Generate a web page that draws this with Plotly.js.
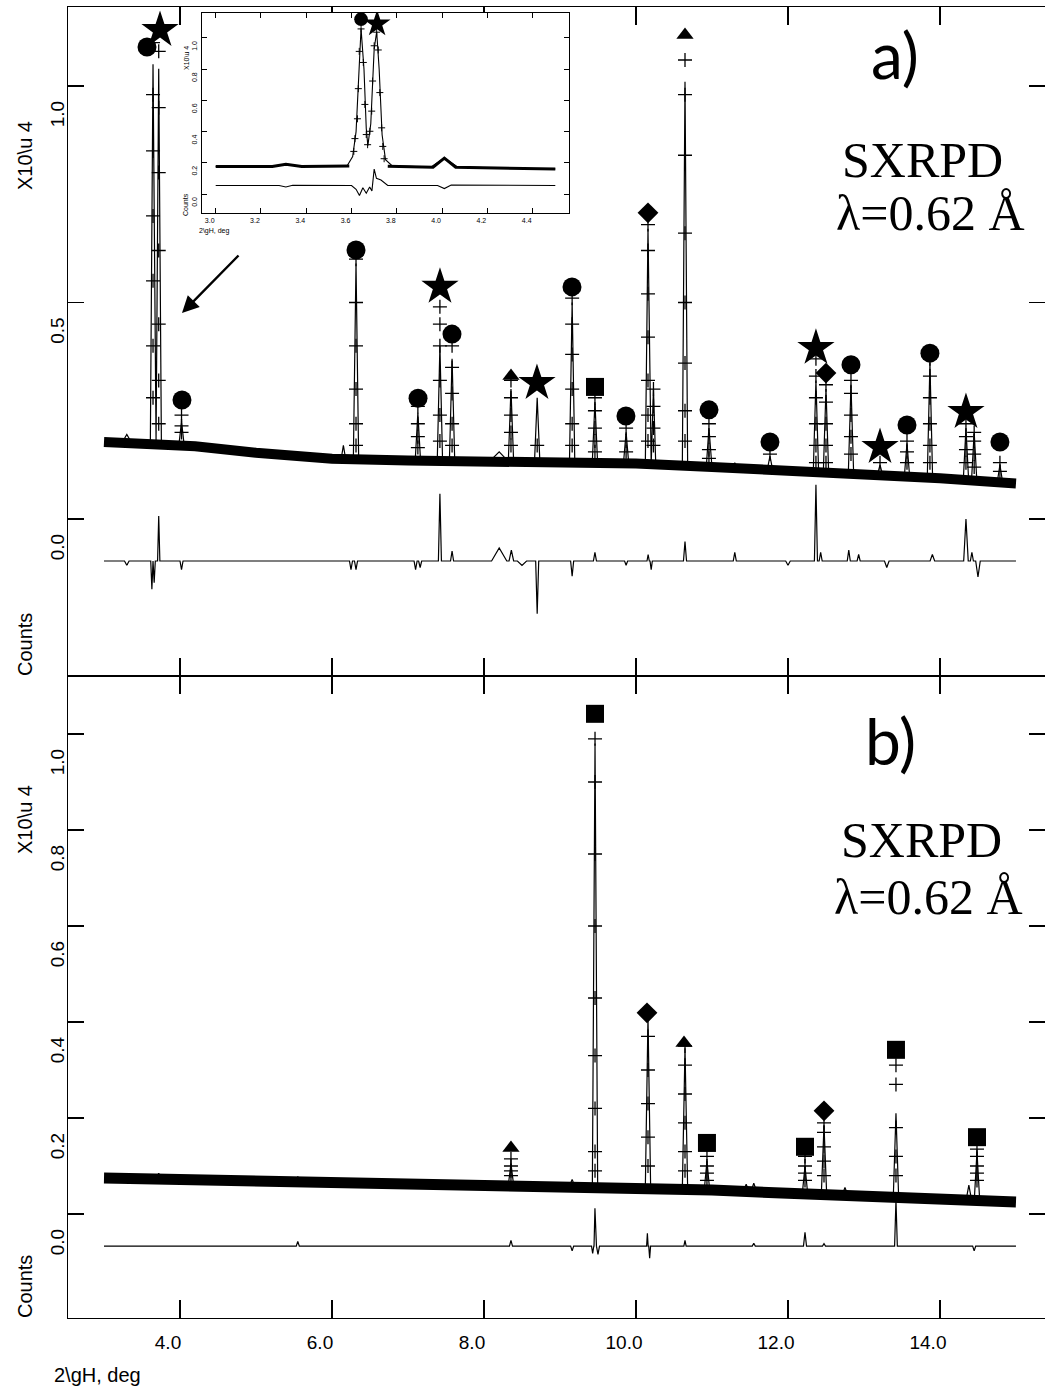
<!DOCTYPE html>
<html>
<head>
<meta charset="utf-8">
<script src="https://cdn.plot.ly/plotly-3.0.1.min.js"></script>
<style>html,body{margin:0;padding:0;background:#fff;}#chart{width:1045px;height:1390px;}</style>
</head>
<body>
<div id="chart"></div>
<script>
// ---------------- DATA ----------------
const xTickVals = [4, 6, 8, 10, 12, 14];
const yTicksA = [0.0, 0.5, 1.0];
const yTicksB = [0.0, 0.2, 0.4, 0.6, 0.8, 1.0];
const insetXTicks = [3.0, 3.2, 3.4, 3.6, 3.8, 4.0, 4.2, 4.4];
const insetYTicks = [0.0, 0.2, 0.4, 0.6, 0.8, 1.0];

// Panel a) background (observed band)
const bgA_x = [3.0, 3.5, 4.2, 5.0, 5.5, 6.0, 7.0, 8.0, 9.0, 10.0, 11.0, 12.0, 13.0, 14.0, 15.0];
const bgA_y = [0.178, 0.176, 0.168, 0.153, 0.145, 0.139, 0.135, 0.134, 0.132, 0.128, 0.120, 0.112, 0.103, 0.094, 0.082];
// Panel a) peaks
const peakA_x    = [3.30, 3.645, 3.72, 4.02, 4.95, 6.15, 6.316, 7.13, 7.42, 7.58, 8.20, 8.355, 8.70, 9.16, 9.46, 9.87, 10.158, 10.23, 10.645, 10.96, 11.30, 11.763, 12.368, 12.50, 12.829, 13.211, 13.566, 13.868, 14.342, 14.45, 14.789];
const peakA_calc = [0.195, 1.05, 1.04, 0.225, 0.162, 0.17, 0.59, 0.245, 0.40, 0.37, 0.155, 0.30, 0.28, 0.50, 0.27, 0.20, 0.67, 0.30, 1.01, 0.21, 0.13, 0.145, 0.32, 0.30, 0.31, 0.125, 0.175, 0.36, 0.21, 0.20, 0.125];
const peakA_obs  = [null, 1.10, 1.08, 0.24, null, null, 0.60, 0.26, 0.49, 0.40, null, 0.32, 0.17, 0.51, 0.28, 0.21, 0.68, 0.30, 1.06, 0.22, null, 0.15, 0.37, 0.31, 0.32, 0.13, 0.18, 0.37, 0.22, 0.20, 0.13];
const peakA_base = [0.177, 0.18, 0.18, 0.17, 0.153, 0.138, 0.138, 0.135, 0.134, 0.134, 0.134, 0.133, 0.133, 0.131, 0.130, 0.128, 0.127, 0.127, 0.123, 0.120, 0.118, 0.114, 0.109, 0.108, 0.105, 0.101, 0.098, 0.095, 0.090, 0.089, 0.085];
const peakA_hw   = [0.06, 0.035, 0.035, 0.035, 0.06, 0.03, 0.035, 0.035, 0.035, 0.035, 0.12, 0.035, 0.035, 0.035, 0.035, 0.035, 0.035, 0.03, 0.035, 0.035, 0.03, 0.035, 0.035, 0.035, 0.035, 0.035, 0.035, 0.035, 0.035, 0.035, 0.035];
// Panel a) observed crosses along the peak flanks
const flankA_x = [3.645, 3.645, 3.645, 3.645, 3.645, 3.645, 3.72, 3.72, 3.72, 3.72, 3.72, 3.72, 4.02, 4.02,
  6.316, 6.316, 6.316, 6.316, 6.316, 7.13, 7.13, 7.13, 7.42, 7.42, 7.42, 7.42, 7.42, 7.58, 7.58, 7.58, 7.58,
  8.355, 8.355, 8.355, 8.355, 9.16, 9.16, 9.16, 9.16, 9.16, 9.46, 9.46, 9.46, 9.46, 9.87, 9.87,
  10.158, 10.158, 10.158, 10.158, 10.158, 10.158, 10.23, 10.23, 10.23,
  10.645, 10.645, 10.645, 10.645, 10.645, 10.645, 10.645, 10.96, 10.96, 10.96,
  12.368, 12.368, 12.368, 12.368, 12.368, 12.50, 12.50, 12.50, 12.50, 12.829, 12.829, 12.829, 12.829,
  13.566, 13.566, 13.868, 13.868, 13.868, 13.868, 13.868, 14.342, 14.342, 14.342, 14.45, 14.45, 14.45, 14.789];
const flankA_y = [0.98, 0.85, 0.70, 0.55, 0.40, 0.28, 0.95, 0.80, 0.62, 0.45, 0.32, 0.22, 0.20, 0.215,
  0.50, 0.40, 0.30, 0.22, 0.17, 0.22, 0.19, 0.165, 0.45, 0.40, 0.32, 0.24, 0.18, 0.35, 0.29, 0.22, 0.17,
  0.28, 0.24, 0.20, 0.17, 0.45, 0.38, 0.30, 0.22, 0.17, 0.25, 0.21, 0.18, 0.155, 0.18, 0.155,
  0.62, 0.52, 0.42, 0.32, 0.24, 0.18, 0.26, 0.21, 0.17,
  0.98, 0.84, 0.66, 0.50, 0.36, 0.25, 0.18, 0.19, 0.16, 0.14,
  0.33, 0.28, 0.22, 0.17, 0.13, 0.27, 0.22, 0.17, 0.13, 0.29, 0.24, 0.19, 0.15,
  0.155, 0.13, 0.33, 0.28, 0.22, 0.17, 0.13, 0.19, 0.16, 0.13, 0.18, 0.15, 0.12, 0.11];
// Panel a) difference curve
const diffA_base = -0.097;
const diffA_x  = [3.30, 3.63, 3.66, 3.72, 4.02, 6.25, 6.316, 7.10, 7.16, 7.42, 7.58, 8.20, 8.36, 8.50, 8.70, 9.16, 9.46, 9.87, 10.16, 10.20, 10.645, 11.30, 12.00, 12.368, 12.43, 12.80, 12.93, 13.30, 13.90, 14.342, 14.42, 14.50];
const diffA_dy = [-0.01, -0.065, -0.05, 0.104, -0.02, -0.02, -0.02, -0.02, -0.015, 0.155, 0.023, 0.03, 0.025, -0.01, -0.122, -0.035, 0.02, -0.01, 0.015, -0.02, 0.045, 0.02, -0.01, 0.176, 0.02, 0.025, 0.015, -0.015, 0.015, 0.097, 0.02, -0.037];
const diffA_hw = [0.03, 0.015, 0.015, 0.015, 0.02, 0.02, 0.02, 0.02, 0.02, 0.02, 0.02, 0.10, 0.03, 0.06, 0.02, 0.02, 0.02, 0.02, 0.015, 0.015, 0.02, 0.02, 0.03, 0.02, 0.02, 0.02, 0.02, 0.03, 0.03, 0.03, 0.02, 0.03];
// Panel a) phase markers
const markA_x = [3.566, 3.737, 4.026, 6.316, 7.132, 7.421, 7.579, 8.355, 8.697, 9.158, 9.461, 9.868, 10.158, 10.645, 10.961, 11.763, 12.368, 12.500, 12.829, 13.211, 13.566, 13.868, 14.342, 14.789];
const markA_y = [1.090, 1.129, 0.275, 0.621, 0.279, 0.536, 0.427, 0.330, 0.314, 0.536, 0.305, 0.238, 0.707, 1.118, 0.252, 0.178, 0.395, 0.337, 0.356, 0.166, 0.217, 0.383, 0.247, 0.178];
const markA_phase = ['circle', 'star', 'circle', 'circle', 'circle', 'star', 'circle', 'triangle', 'star', 'circle', 'square', 'circle', 'diamond', 'triangle', 'circle', 'circle', 'star', 'diamond', 'circle', 'star', 'circle', 'circle', 'star', 'circle'];

// Panel b) background
const bgB_x = [3.0, 4.0, 5.0, 6.0, 7.0, 8.0, 9.0, 10.0, 11.0, 12.0, 13.0, 14.0, 15.0];
const bgB_y = [0.075, 0.072, 0.068, 0.064, 0.061, 0.060, 0.058, 0.054, 0.050, 0.043, 0.037, 0.031, 0.025];
// Panel b) peaks
const peakB_x    = [3.72, 5.55, 8.355, 9.16, 9.461, 10.158, 10.645, 10.934, 11.45, 11.55, 12.224, 12.474, 12.75, 13.421, 14.38, 14.487];
const peakB_calc = [0.085, 0.078, 0.105, 0.072, 0.98, 0.41, 0.345, 0.11, 0.062, 0.064, 0.10, 0.185, 0.055, 0.21, 0.06, 0.13];
const peakB_obs  = [null, null, 0.115, null, 0.99, 0.42, 0.35, 0.12, null, null, 0.12, 0.19, null, 0.31, null, 0.135];
const peakB_base = [0.075, 0.067, 0.060, 0.058, 0.057, 0.054, 0.052, 0.051, 0.048, 0.048, 0.043, 0.042, 0.040, 0.036, 0.030, 0.030];
const peakB_hw   = [0.035, 0.035, 0.035, 0.035, 0.035, 0.035, 0.035, 0.035, 0.035, 0.035, 0.035, 0.035, 0.035, 0.035, 0.035, 0.035];
// Panel b) observed crosses along the peak flanks
const flankB_x = [8.355, 8.355, 8.355, 9.461, 9.461, 9.461, 9.461, 9.461, 9.461, 9.461, 9.461,
  10.158, 10.158, 10.158, 10.158, 10.158, 10.645, 10.645, 10.645, 10.645, 10.645, 10.934, 10.934, 10.934,
  12.224, 12.224, 12.224, 12.474, 12.474, 12.474, 12.474, 13.421, 13.421, 13.421, 13.421, 14.487, 14.487, 14.487, 14.487];
const flankB_y = [0.10, 0.09, 0.08, 0.90, 0.75, 0.60, 0.45, 0.33, 0.22, 0.13, 0.09,
  0.37, 0.30, 0.23, 0.16, 0.10, 0.31, 0.25, 0.19, 0.13, 0.09, 0.10, 0.085, 0.07,
  0.10, 0.085, 0.07, 0.17, 0.14, 0.11, 0.08, 0.27, 0.18, 0.12, 0.08, 0.12, 0.10, 0.085, 0.07];
// Panel b) difference curve
const diffB_base = -0.067;
const diffB_x  = [5.55, 8.355, 9.16, 9.43, 9.46, 9.50, 10.15, 10.18, 10.645, 11.55, 12.224, 12.474, 13.421, 14.45];
const diffB_dy = [0.01, 0.012, -0.01, -0.015, 0.079, -0.017, 0.027, -0.025, 0.012, 0.006, 0.029, 0.005, 0.096, -0.01];
const diffB_hw = [0.02, 0.02, 0.02, 0.015, 0.012, 0.02, 0.01, 0.012, 0.015, 0.02, 0.02, 0.02, 0.018, 0.02];
// Panel b) phase markers
const markB_x = [8.355, 9.461, 10.145, 10.632, 10.934, 12.224, 12.474, 13.421, 14.487];
const markB_y = [0.1375, 1.042, 0.419, 0.356, 0.148, 0.140, 0.215, 0.342, 0.160];
const markB_phase = ['triangle', 'square', 'diamond', 'triangle', 'square', 'square', 'diamond', 'square', 'square'];

// Inset (zoom of 3.0-4.5 deg)
const insetCalc_x = [3.0, 3.25, 3.31, 3.38, 3.58, 3.605, 3.62, 3.635, 3.642, 3.655, 3.665, 3.672, 3.685, 3.70, 3.711, 3.722, 3.735, 3.75, 3.78, 3.95, 4.01, 4.07, 4.5];
const insetCalc_y = [0.176, 0.176, 0.192, 0.176, 0.18, 0.24, 0.40, 0.85, 1.06, 0.80, 0.42, 0.31, 0.45, 0.93, 1.04, 0.80, 0.38, 0.22, 0.18, 0.172, 0.232, 0.172, 0.16];
const insetObs_x = [3.610, 3.615, 3.626, 3.630, 3.634, 3.642, 3.652, 3.659, 3.665, 3.671, 3.681, 3.689, 3.693, 3.700, 3.711, 3.718, 3.725, 3.733, 3.738, 3.744];
const insetObs_y = [0.273, 0.355, 0.482, 0.675, 0.914, 1.058, 0.843, 0.574, 0.381, 0.316, 0.402, 0.531, 0.724, 0.950, 1.037, 0.923, 0.650, 0.424, 0.305, 0.226];
const insetBand_x = [3.0, 3.25, 3.31, 3.38, 3.59, null, 3.76, 3.96, 4.01, 4.06, 4.5];
const insetBand_y = [0.176, 0.176, 0.19, 0.176, 0.18, null, 0.178, 0.172, 0.23, 0.172, 0.16];
const insetDiff_x = [3.0, 3.28, 3.31, 3.34, 3.6, 3.62, 3.635, 3.65, 3.665, 3.68, 3.69, 3.70, 3.71, 3.73, 3.76, 3.98, 4.01, 4.04, 4.5];
const insetDiff_y = [0.054, 0.054, 0.045, 0.056, 0.054, 0.03, -0.01, 0.04, 0.005, 0.045, 0.02, 0.16, 0.10, 0.09, 0.055, 0.054, 0.035, 0.058, 0.054];
const insetMark_x = [3.642, 3.713];
const insetMark_y = [1.12, 1.09];
const insetMark_phase = ['circle', 'star'];

// ---------------- BUILD ----------------
function profile(bx, by, px, ptop, pbase, hw) {
  const pts = [];
  bx.forEach((x, i) => {
    if (!px.some((p, j) => Math.abs(x - p) <= hw[j])) pts.push([x, by[i]]);
  });
  px.forEach((p, j) => {
    pts.push([p - hw[j], pbase[j]], [p, ptop[j]], [p + hw[j], pbase[j]]);
  });
  pts.sort((a, b) => a[0] - b[0]);
  return { x: pts.map(p => p[0]), y: pts.map(p => p[1]) };
}
function diffProfile(base, fx, fdy, fhw) {
  const bx = [3.0, 15.0], by = [base, base];
  return profile(bx, by, fx, fdy.map(d => base + d), fx.map(() => base), fhw);
}

const styleMap = {
  circle:   { symbol: 'circle', size: 19 },
  star:     { symbol: 'star', size: 28 },
  triangle: { symbol: 'triangle-up', size: 15 },
  diamond:  { symbol: 'diamond', size: 16 },
  square:   { symbol: 'square', size: 18 }
};

function markerTraces(mx, my, phase, xa, ya, scale) {
  const out = [];
  Object.keys(styleMap).forEach(k => {
    const xs = [], ys = [];
    phase.forEach((p, i) => { if (p === k) { xs.push(mx[i]); ys.push(my[i]); } });
    if (xs.length) {
      out.push({
        type: 'scatter', mode: 'markers', x: xs, y: ys, xaxis: xa, yaxis: ya,
        marker: { symbol: styleMap[k].symbol, size: styleMap[k].size * scale, color: 'black', line: { width: 0 } },
        hoverinfo: 'skip', showlegend: false
      });
    }
  });
  return out;
}

const crossMarker = { symbol: 'cross-thin', size: 10, line: { width: 1.3, color: 'black' } };
const traces = [];
function panel(bx, by, px, pc, po, pb, phw, fx, fy, dBase, dx, ddy, dhw, mx, my, mph, xa, ya, bandW) {
  traces.push({ type: 'scatter', mode: 'lines', x: bx, y: by, xaxis: xa, yaxis: ya,
    line: { color: 'black', width: bandW }, hoverinfo: 'skip', showlegend: false });
  const c = profile(bx, by, px, pc, pb, phw);
  traces.push({ type: 'scatter', mode: 'lines', x: c.x, y: c.y, xaxis: xa, yaxis: ya,
    line: { color: 'black', width: 1.2 }, hoverinfo: 'skip', showlegend: false });
  traces.push({ type: 'scatter', mode: 'markers', x: px, y: po, xaxis: xa, yaxis: ya,
    marker: crossMarker, hoverinfo: 'skip', showlegend: false });
  traces.push({ type: 'scatter', mode: 'markers', x: fx, y: fy, xaxis: xa, yaxis: ya,
    marker: crossMarker, hoverinfo: 'skip', showlegend: false });
  const d = diffProfile(dBase, dx, ddy, dhw);
  traces.push({ type: 'scatter', mode: 'lines', x: d.x, y: d.y, xaxis: xa, yaxis: ya,
    line: { color: 'black', width: 1.2 }, hoverinfo: 'skip', showlegend: false });
  markerTraces(mx, my, mph, xa, ya, 1).forEach(t => traces.push(t));
}

panel(bgA_x, bgA_y, peakA_x, peakA_calc, peakA_obs, peakA_base, peakA_hw, flankA_x, flankA_y,
      diffA_base, diffA_x, diffA_dy, diffA_hw, markA_x, markA_y, markA_phase, 'x2', 'y2', 10);
panel(bgB_x, bgB_y, peakB_x, peakB_calc, peakB_obs, peakB_base, peakB_hw, flankB_x, flankB_y,
      diffB_base, diffB_x, diffB_dy, diffB_hw, markB_x, markB_y, markB_phase, 'x', 'y', 11);

// inset
traces.push({ type: 'scatter', mode: 'lines', x: insetBand_x, y: insetBand_y, xaxis: 'x3', yaxis: 'y3',
  line: { color: 'black', width: 3 }, hoverinfo: 'skip', showlegend: false, connectgaps: false });
traces.push({ type: 'scatter', mode: 'lines', x: insetCalc_x, y: insetCalc_y, xaxis: 'x3', yaxis: 'y3',
  line: { color: 'black', width: 1.1 }, hoverinfo: 'skip', showlegend: false });
traces.push({ type: 'scatter', mode: 'markers', x: insetObs_x, y: insetObs_y, xaxis: 'x3', yaxis: 'y3',
  marker: { symbol: 'cross-thin', size: 5, line: { width: 1, color: 'black' } }, hoverinfo: 'skip', showlegend: false });
traces.push({ type: 'scatter', mode: 'lines', x: insetDiff_x, y: insetDiff_y, xaxis: 'x3', yaxis: 'y3',
  line: { color: 'black', width: 1.1 }, hoverinfo: 'skip', showlegend: false });
markerTraces(insetMark_x, insetMark_y, insetMark_phase, 'x3', 'y3', 0.72).forEach(t => traces.push(t));

// ---------------- LAYOUT ----------------
const W = 1045, H = 1390, L = 68, R = 0, T = 7, B = 72;
const PW = W - L - R, PH = H - T - B;
function px2paper(px, py) { return { x: (px - L) / PW, y: (H - B - py) / PH }; }
const splitY = (H - B - 676) / PH;

const narrow = 'Liberation Sans Narrow, Arial Narrow, Liberation Sans, sans-serif';
const tickFont = { family: narrow, size: 19, color: 'black' };
const insetTickFont = { family: narrow, size: 7, color: 'black' };

const xCommon = {
  range: [2.5263, 15.382], tickvals: xTickVals, tickformat: '.1f',
  ticks: 'inside', ticklen: 18, tickwidth: 1.3, tickcolor: 'black',
  showline: true, linecolor: 'black', linewidth: 1.3, mirror: 'allticks',
  showgrid: false, zeroline: false, fixedrange: true
};
const yCommon = {
  tickformat: '.1f', tickangle: -90, tickfont: tickFont,
  ticklabelshift: 31, ticklabelstandoff: -5,
  ticks: 'inside', ticklen: 16, tickwidth: 1.3, tickcolor: 'black',
  showline: true, linecolor: 'black', linewidth: 1.3, mirror: 'allticks',
  showgrid: false, zeroline: false, fixedrange: true
};

const layout = {
  width: W, height: H,
  margin: { l: L, r: R, t: T, b: B },
  paper_bgcolor: 'white', plot_bgcolor: 'white',
  showlegend: false,
  xaxis: Object.assign({}, xCommon, { anchor: 'y', domain: [0, 1], tickfont: tickFont, ticklabelshift: -12, ticklabelstandoff: 7 }),
  yaxis: Object.assign({}, yCommon, { anchor: 'x', domain: [0, splitY], range: [-0.2167, 1.1208], tickvals: yTicksB }),
  xaxis2: Object.assign({}, xCommon, { anchor: 'y2', domain: [0, 1], showticklabels: false }),
  yaxis2: Object.assign({}, yCommon, { anchor: 'x2', domain: [splitY, 1], range: [-0.3626, 1.1824], tickvals: yTicksA }),
  xaxis3: {
    anchor: 'y3', domain: [(202 - L) / PW, (569 - L) / PW], range: [2.9395, 4.5605],
    tickvals: insetXTicks, tickformat: '.1f', tickfont: insetTickFont,
    ticklabelstandoff: 1, ticklabelshift: -6,
    ticks: 'inside', ticklen: 5, tickwidth: 1, tickcolor: 'black',
    showline: true, linecolor: 'black', linewidth: 1, mirror: 'allticks',
    showgrid: false, zeroline: false, fixedrange: true
  },
  yaxis3: {
    anchor: 'x3', domain: [(H - B - 213) / PH, (H - B - 13) / PH], range: [-0.1218, 1.160],
    tickvals: insetYTicks, tickformat: '.1f', tickangle: -90, tickfont: insetTickFont,
    ticklabelshift: 9, ticklabelstandoff: 1,
    ticks: 'inside', ticklen: 5, tickwidth: 1, tickcolor: 'black',
    showline: true, linecolor: 'black', linewidth: 1, mirror: 'allticks',
    showgrid: false, zeroline: false, fixedrange: true
  },
  annotations: []
};

function ann(text, px, py, font, extra) {
  const p = px2paper(px, py);
  layout.annotations.push(Object.assign({
    text: text, x: p.x, y: p.y, xref: 'paper', yref: 'paper',
    xanchor: 'center', yanchor: 'middle', showarrow: false, font: font
  }, extra || {}));
}
const titleFont = { family: narrow, size: 20, color: 'black' };
ann('X10\\u 4', 25, 156, titleFont, { textangle: -90 });
ann('Counts', 25, 645, titleFont, { textangle: -90 });
ann('X10\\u 4', 25, 820, titleFont, { textangle: -90 });
ann('Counts', 25, 1287, titleFont, { textangle: -90 });
ann('2\\gH, deg', 97, 1375, titleFont);

const insetFont = { family: narrow, size: 7, color: 'black' };
ann('X10\\u 4', 187, 58, insetFont, { textangle: -90 });
ann('Counts', 186, 205, insetFont, { textangle: -90 });
ann('2\\gH, deg', 214, 231, insetFont);

const bigFont = { family: 'Lato, Open Sans, sans-serif', size: 64, color: 'black' };
const serif = { family: 'Liberation Serif, Times New Roman, serif', size: 50, color: 'black' };
ann('a)', 895, 55, bigFont);
ann('SXRPD', 922, 160, serif);
ann('λ=0.62 Å', 930, 213, serif);
ann('b)', 890, 740, bigFont);
ann('SXRPD', 921, 840, serif);
ann('λ=0.62 Å', 928, 897, serif);

// arrow
const head = px2paper(182, 313);
layout.annotations.push({
  x: head.x, y: head.y, xref: 'paper', yref: 'paper', text: '',
  showarrow: true, arrowhead: 2, arrowsize: 1.4, arrowwidth: 2.4, arrowcolor: 'black',
  ax: 58, ay: -59, axref: 'pixel', ayref: 'pixel'
});

Plotly.newPlot('chart', traces, layout, { displayModeBar: false, staticPlot: true });
</script>
</body>
</html>
